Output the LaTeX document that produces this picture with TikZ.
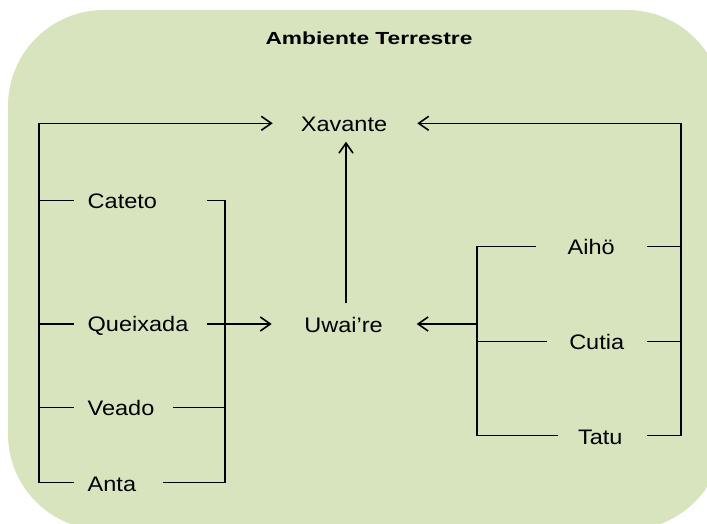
\documentclass[tikz,border=0pt]{standalone}
\usepackage{fontspec}
\setmainfont{Liberation Sans}[FakeStretch=1.12]
\newfontfamily\titlefont{Liberation Sans}[FakeStretch=1.3]
\usetikzlibrary{arrows.meta}
\definecolor{bggreen}{HTML}{D7E4BD}
\tikzset{
  lbl/.style={inner sep=0pt, font=\fontsize{21}{24}\selectfont},
  ttl/.style={inner sep=0pt, font=\titlefont\bfseries\fontsize{17.5}{20}\selectfont},
  ln/.style={draw=black, line width=1.1pt},
  bus/.style={draw=black, line width=1.4pt},
  thk/.style={draw=black, line width=2pt},
  arr/.style={-{Straight Barb[length=10pt,width=14pt,line width=1.6pt]}},
}
\begin{document}
\begin{tikzpicture}[x=1pt,y=-1pt]
\useasboundingbox (0,0) rectangle (707,524);
\fill[bggreen, rounded corners=96pt] (8,10) rectangle (723,530);

% labels
\node[ttl, anchor=base] (title) at (369,45) {Ambiente Terrestre};
\node[lbl, anchor=base] (xav) at (344,131.7) {Xavante};
\node[lbl, anchor=base] (uwa) at (343.5,332.3) {Uwai’re};
\node[lbl, anchor=base west] (cat) at (87.5,208.3) {Cateto};
\node[lbl, anchor=base west] (que) at (87.5,331.7) {Queixada};
\node[lbl, anchor=base west] (vea) at (87.5,415.7) {Veado};
\node[lbl, anchor=base west] (ant) at (87.5,491.7) {Anta};
\node[lbl, anchor=base] (aih) at (591.2,254.3) {Aihö};
\node[lbl, anchor=base] (cut) at (596.7,349.3) {Cutia};
\node[lbl, anchor=base] (tat) at (600.3,444) {Tatu};

% coordinates
\coordinate (LT) at (39,123.3);
\coordinate (LB) at (39,482.7);
\coordinate (RT) at (681,123.3);
\coordinate (RB) at (681,435.7);
\coordinate (xavL) at (272.7,123.3);
\coordinate (xavR) at (417.3,123.3);
\coordinate (xavS) at (346,141.7);
\coordinate (uwaN) at (346,303.3);
\coordinate (uwaL) at (271.7,324);
\coordinate (uwaR) at (416.7,324);

\coordinate (catL) at (74,200.7);  \coordinate (catR) at (206.7,200.7);
\coordinate (queL) at (74,324);    \coordinate (queR) at (206.7,324);
\coordinate (veaL) at (74,407.3);  \coordinate (veaR) at (173,407.3);
\coordinate (antL) at (74,482.7);  \coordinate (antR) at (163,482.7);
\coordinate (LJt) at (225,200.7);
\coordinate (LJq) at (225,324);
\coordinate (LJv) at (225,407.3);
\coordinate (LJb) at (225,482.7);

\coordinate (aihL) at (536,246.7);   \coordinate (aihR) at (646.7,246.7);
\coordinate (cutL) at (547.3,341.7); \coordinate (cutR) at (646.7,341.7);
\coordinate (tatL) at (558.3,435.7); \coordinate (tatR) at (646.7,435.7);
\coordinate (RJt) at (477,246.7);
\coordinate (RJu) at (477,324);
\coordinate (RJc) at (477,341.7);
\coordinate (RJb) at (477,435.7);

% outer buses to Xavante
\draw[bus, arr] (LB) -- (LT) -- (xavL);
\draw[bus, arr] (RB) -- (RT) -- (xavR);
\draw[ln, arr] (uwaN) -- (xavS);

% left group
\draw[ln] (catL) -- (catL -| LT);
\draw[ln] (queL) -- (queL -| LT);
\draw[ln] (veaL) -- (veaL -| LT);
\draw[ln] (antL) -- (antL -| LT);
\draw[ln] (catR) -- (LJt) -- (LJb) -- (antR);
\draw[ln] (queR) -- (LJq);
\draw[ln] (veaR) -- (LJv);
\draw[thk, arr] (LJv) -- (LJq) -- (uwaL);

% right group
\draw[ln] (aihR) -- (aihR -| RT);
\draw[ln] (cutR) -- (cutR -| RT);
\draw[ln] (tatR) -- (tatR -| RT);
\draw[ln] (aihL) -- (RJt) -- (RJb) -- (tatL);
\draw[ln] (cutL) -- (RJc);
\draw[thk, arr] (RJc) -- (RJu) -- (uwaR);
\end{tikzpicture}
\end{document}
